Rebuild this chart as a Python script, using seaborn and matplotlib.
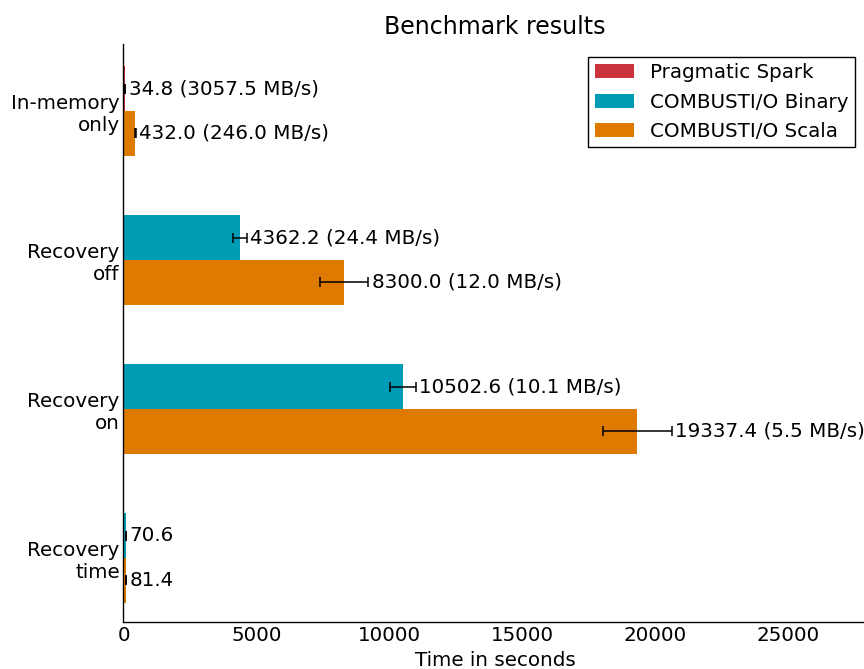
import numpy as np
import pandas as pd
import matplotlib
matplotlib.use("Agg")
import matplotlib.pyplot as plt
import seaborn as sns

categories = ["In-memory\nonly", "Recovery\noff", "Recovery\non", "Recovery\ntime"]
series = ["Pragmatic Spark", "COMBUSTI/O Binary", "COMBUSTI/O Scala"]
colors = ["#cc343d", "#009cb6", "#df7a00"]

spark_times = [34.8, None, None, None]
binary_times = [None, 4362.2, 10502.6, 70.6]
scala_times = [432.0, 8300.0, 19337.4, 81.4]

spark_err = [6.0, None, None, None]
binary_err = [None, 265.0, 490.0, 3.0]
scala_err = [15.0, 900.0, 1300.0, 3.0]

spark_tput = [3057.5, None, None, None]
binary_tput = [None, 24.4, 10.1, None]
scala_tput = [246.0, 12.0, 5.5, None]

times = [spark_times, binary_times, scala_times]
errs = [spark_err, binary_err, scala_err]
tputs = [spark_tput, binary_tput, scala_tput]

BAR_H = 0.3
FS = 14.3

rows = []
for ci, cat in enumerate(categories):
    present = [(s, t[ci], e[ci], tp[ci]) for s, t, e, tp in zip(series, times, errs, tputs)
               if t[ci] is not None]
    n = len(present)
    for slot, (s, v, e, tp) in enumerate(present):
        pos = ci + (slot - (n - 1) / 2) * BAR_H
        rows.append(dict(series=s, time=v, err=e, tput=tp, pos=pos))
df = pd.DataFrame(rows)

sns.set_theme(style="white")
plt.rcParams["font.family"] = ["DejaVu Sans"]
plt.rcParams["text.color"] = "black"
plt.rcParams["axes.labelcolor"] = "black"
plt.rcParams["xtick.color"] = "black"
plt.rcParams["ytick.color"] = "black"

fig = plt.figure(figsize=(8.64, 6.69), dpi=100)
ax = fig.add_axes([124 / 864, 47 / 669, 742 / 864, (622 - 44) / 669])

sns.barplot(data=df, x="time", y="pos", hue="series", hue_order=series,
            palette=colors, orient="h", native_scale=True, dodge=False,
            width=1.0, errorbar=None, saturation=1, ax=ax, linewidth=0)

ax.errorbar(df["time"], df["pos"], xerr=df["err"], fmt="none", ecolor="black",
            elinewidth=1.1, capsize=3.6, capthick=1.1, zorder=5)

for _, r in df.iterrows():
    if r["tput"] is not None and not pd.isna(r["tput"]):
        txt = f"{r['time']:.1f} ({r['tput']:.1f} MB/s)"
    else:
        txt = f"{r['time']:.1f}"
    ax.annotate(txt, xy=(r["time"] + r["err"], r["pos"]), xytext=(2.5, 0),
                textcoords="offset points", va="center", ha="left", fontsize=FS,
                color="black")

ax.set_xlim(0, 27950)
ax.set_ylim(3.43, -0.45)
ax.set_yticks(range(len(categories)))
ax.set_yticklabels(categories, fontsize=FS, va="center")
ax.set_xticks([0, 5000, 10000, 15000, 20000, 25000])
ax.set_xticklabels(["0", "5000", "10000", "15000", "20000", "25000"], fontsize=FS)
ax.tick_params(axis="x", direction="in", length=5, width=1, colors="black",
               labelsize=FS, pad=3)
ax.tick_params(axis="y", length=0, pad=2.5, labelsize=FS, colors="black")
ax.set_xlabel("Time in seconds", fontsize=FS, labelpad=4, color="black")
ax.set_ylabel("")
ax.set_title("Benchmark results", fontsize=17, pad=7, color="black")

for sp in ["top", "right"]:
    ax.spines[sp].set_visible(False)
for sp in ["left", "bottom"]:
    ax.spines[sp].set_color("black")
    ax.spines[sp].set_linewidth(1.0)
ax.spines["left"].set_position(("outward", 0.6))

handles, labels = ax.get_legend_handles_labels()
leg = ax.legend(handles, labels, loc="upper right",
                bbox_to_anchor=(855 / 864, 1 - 57 / 669),
                bbox_transform=fig.transFigure, borderaxespad=0,
                fontsize=FS, frameon=True, fancybox=False, edgecolor="black",
                framealpha=1, borderpad=0.32, labelspacing=0.52)
leg.get_frame().set_linewidth(1.0)

fig.savefig("out.png", dpi=100)
